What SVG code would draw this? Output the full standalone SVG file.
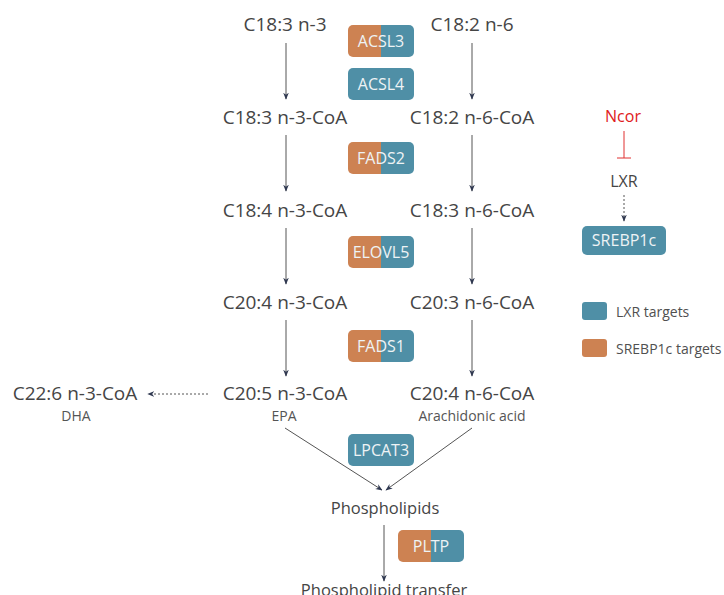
<svg xmlns="http://www.w3.org/2000/svg" width="724" height="595" viewBox="0 0 724 595">
<defs>
<style>
.t{font-family:"Open Sans","Noto Sans",sans-serif;fill:#454545;text-anchor:middle}
.m{font-size:19px}
.p{font-size:16.5px}
.s{font-size:14px;fill:#555}
.b{font-family:"Open Sans","Noto Sans",sans-serif;font-size:16px;fill:#eef3f5;text-anchor:middle}
.lg{font-family:"Open Sans","Noto Sans",sans-serif;font-size:14px;fill:#505050}
.ln{stroke:#555;stroke-width:1;fill:none}
.ds{stroke:#555;stroke-width:1;fill:none;stroke-dasharray:2,2}
.o{fill:#cd8252}
.g{fill:#4f8fa6}
</style>
<marker id="ah" viewBox="0 0 10 10" refX="9" refY="5" markerWidth="7" markerHeight="7" orient="auto" markerUnits="userSpaceOnUse">
<path d="M0,1 L10,5 L0,9 L3,5 Z" fill="#2f3850"/>
</marker>
<clipPath id="c1"><rect x="348" y="25" width="66" height="32" rx="5"/></clipPath>
<clipPath id="c2"><rect x="348" y="142" width="66" height="32" rx="5"/></clipPath>
<clipPath id="c3"><rect x="348" y="236" width="66" height="32" rx="5"/></clipPath>
<clipPath id="c4"><rect x="348" y="330" width="66" height="32" rx="5"/></clipPath>
<clipPath id="c5"><rect x="398" y="530" width="66" height="32" rx="5"/></clipPath>
</defs>
<rect width="724" height="595" fill="#fff"/>
<g id="connectors">
<line class="ln" x1="286" y1="43" x2="286" y2="99" marker-end="url(#ah)"/>
<line class="ln" x1="472" y1="43" x2="472" y2="99" marker-end="url(#ah)"/>
<line class="ln" x1="286" y1="135" x2="286" y2="191" marker-end="url(#ah)"/>
<line class="ln" x1="472" y1="135" x2="472" y2="191" marker-end="url(#ah)"/>
<line class="ln" x1="286" y1="228" x2="286" y2="284" marker-end="url(#ah)"/>
<line class="ln" x1="472" y1="228" x2="472" y2="284" marker-end="url(#ah)"/>
<line class="ln" x1="286" y1="320" x2="286" y2="376" marker-end="url(#ah)"/>
<line class="ln" x1="472" y1="320" x2="472" y2="376" marker-end="url(#ah)"/>
<line class="ds" x1="208" y1="394" x2="148" y2="394" marker-end="url(#ah)"/>
<line class="ln" x1="285" y1="428" x2="382" y2="490" marker-end="url(#ah)"/>
<line class="ln" x1="472" y1="428" x2="386" y2="490" marker-end="url(#ah)"/>
<line class="ln" x1="384" y1="525" x2="384" y2="581" marker-end="url(#ah)"/>
<line x1="624" y1="131" x2="624" y2="158" stroke="#e03030" stroke-width="1"/>
<line x1="617" y1="158" x2="631" y2="158" stroke="#e03030" stroke-width="1"/>
<line class="ds" x1="624" y1="195" x2="624" y2="221" marker-end="url(#ah)"/>
</g>
<g id="n-c183"><text class="t m" x="285" y="31">C18:3 n-3</text></g>
<g id="n-c182"><text class="t m" x="472" y="31">C18:2 n-6</text></g>
<g id="n-acsl3"><g clip-path="url(#c1)"><rect class="o" x="348" y="25" width="33" height="32"/><rect class="g" x="381" y="25" width="33" height="32"/></g><text class="b" x="381" y="47">ACSL3</text></g>
<g id="n-acsl4"><rect class="g" x="348" y="68" width="66" height="32" rx="5"/><text class="b" x="381" y="90">ACSL4</text></g>
<g id="n-c183coa"><text class="t m" x="285" y="124">C18:3 n-3-CoA</text></g>
<g id="n-c182coa"><text class="t m" x="472" y="124">C18:2 n-6-CoA</text></g>
<g id="n-fads2"><g clip-path="url(#c2)"><rect class="o" x="348" y="142" width="33" height="32"/><rect class="g" x="381" y="142" width="33" height="32"/></g><text class="b" x="381" y="164">FADS2</text></g>
<g id="n-c184coa"><text class="t m" x="285" y="217">C18:4 n-3-CoA</text></g>
<g id="n-c183n6coa"><text class="t m" x="472" y="217">C18:3 n-6-CoA</text></g>
<g id="n-elovl5"><g clip-path="url(#c3)"><rect class="o" x="348" y="236" width="33" height="32"/><rect class="g" x="381" y="236" width="33" height="32"/></g><text class="b" x="381" y="258">ELOVL5</text></g>
<g id="n-c204coa"><text class="t m" x="285" y="309">C20:4 n-3-CoA</text></g>
<g id="n-c203coa"><text class="t m" x="472" y="309">C20:3 n-6-CoA</text></g>
<g id="n-fads1"><g clip-path="url(#c4)"><rect class="o" x="348" y="330" width="33" height="32"/><rect class="g" x="381" y="330" width="33" height="32"/></g><text class="b" x="381" y="352">FADS1</text></g>
<g id="n-epa"><text class="t m" x="285" y="400">C20:5 n-3-CoA</text><text class="t s" x="284" y="421">EPA</text></g>
<g id="n-aa"><text class="t m" x="472" y="400">C20:4 n-6-CoA</text><text class="t s" x="472" y="421">Arachidonic acid</text></g>
<g id="n-dha"><text class="t m" x="75" y="400">C22:6 n-3-CoA</text><text class="t s" x="76" y="421">DHA</text></g>
<g id="n-lpcat3"><rect class="g" x="348" y="434" width="66" height="32" rx="5"/><text class="b" x="381" y="456">LPCAT3</text></g>
<g id="n-pl"><text class="t p" x="385" y="514">Phospholipids</text></g>
<g id="n-pltp"><g clip-path="url(#c5)"><rect class="o" x="398" y="530" width="33" height="32"/><rect class="g" x="431" y="530" width="33" height="32"/></g><text class="b" x="431" y="552">PLTP</text></g>
<g id="n-plt"><text class="t p" x="384" y="596">Phospholipid transfer</text></g>
<g id="n-ncor"><text class="t" x="623" y="122" style="font-size:16px;fill:#e02020">Ncor</text></g>
<g id="n-lxr"><text class="t" x="624" y="187" style="font-size:16px">LXR</text></g>
<g id="n-srebp"><rect class="g" x="582" y="226" width="84" height="29" rx="5"/><text class="b" x="624" y="246">SREBP1c</text></g>
<g id="legend">
<rect class="g" x="582" y="302" width="25" height="18" rx="3"/>
<text class="lg" x="616" y="317">LXR targets</text>
<rect class="o" x="582" y="339" width="25" height="18" rx="3"/>
<text class="lg" x="616" y="354">SREBP1c targets</text>
</g>
</svg>
